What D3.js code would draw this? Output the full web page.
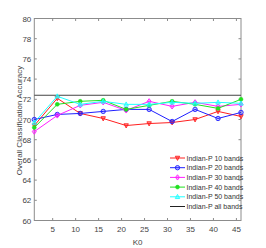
<!DOCTYPE html>
<html>
<head>
<meta charset="utf-8">
<script src="https://cdn.jsdelivr.net/npm/d3@7"></script>
<style>
body { margin: 0; background: #fff; }
</style>
</head>
<body>
<div id="chart"></div>
<script>
// K0 values on the x axis
const k0 = [1, 6, 11, 16, 21, 26, 31, 36, 41, 46];

// accuracy for each band count
const bands10 = [69.4, 72.1, 70.6, 70.1, 69.4, 69.6, 69.7, 70.0, 70.8, 70.3];
const bands20 = [70.0, 70.5, 70.6, 70.8, 71.0, 71.0, 69.8, 71.0, 70.1, 70.7];
const bands30 = [68.8, 70.4, 71.4, 71.7, 70.9, 71.8, 71.3, 71.7, 71.3, 71.5];
const bands40 = [69.2, 71.5, 71.8, 71.9, 71.0, 71.4, 71.8, 71.5, 71.1, 72.0];
const bands50 = [69.7, 72.3, 71.5, 71.8, 71.5, 71.5, 71.7, 71.6, 71.7, 71.6];
const allBands = 72.4;

const seriesNames = ["Indian-P 10 bands", "Indian-P 20 bands", "Indian-P 30 bands",
                     "Indian-P 40 bands", "Indian-P 50 bands", "Indian-P all bands"];

const xTicks = [5, 10, 15, 20, 25, 30, 35, 40, 45];
const yTicks = [60, 62, 64, 66, 68, 70, 72, 74, 76, 78, 80];

const margin = {top: 18.5, right: 25, bottom: 27.5, left: 34.3};
const width = 266 - margin.left - margin.right;
const height = 248 - margin.top - margin.bottom;

const svg = d3.select("#chart").append("svg")
    .attr("width", 266)
    .attr("height", 248)
    .append("g")
    .attr("transform", `translate(${margin.left}, ${margin.top})`);

const x = d3.scaleLinear().domain([1, 46]).range([0, width]);
const y = d3.scaleLinear().domain([60, 80]).range([height, 0]);

const axisColor = "#8c8c8c";
const labelColor = "#444";
const tickFont = "'Liberation Sans Narrow', 'Liberation Sans', Arial, sans-serif";

// box
svg.append("rect")
    .attr("width", width)
    .attr("height", height)
    .attr("fill", "none")
    .attr("stroke", axisColor)
    .attr("stroke-width", 1);

// inward ticks on all four sides
const tickLen = 2.5;
xTicks.forEach(t => {
    svg.append("line").attr("x1", x(t)).attr("x2", x(t)).attr("y1", height).attr("y2", height - tickLen)
        .attr("stroke", axisColor);
    svg.append("line").attr("x1", x(t)).attr("x2", x(t)).attr("y1", 0).attr("y2", tickLen)
        .attr("stroke", axisColor);
    svg.append("text")
        .attr("x", x(t))
        .attr("y", height + 11)
        .attr("text-anchor", "middle")
        .attr("font-family", tickFont)
        .attr("font-size", "8px")
        .attr("fill", labelColor)
        .text(t);
});

yTicks.forEach(t => {
    svg.append("line").attr("x1", 0).attr("x2", tickLen).attr("y1", y(t)).attr("y2", y(t))
        .attr("stroke", axisColor);
    svg.append("line").attr("x1", width).attr("x2", width - tickLen).attr("y1", y(t)).attr("y2", y(t))
        .attr("stroke", axisColor);
    svg.append("text")
        .attr("x", -3)
        .attr("y", y(t) + 3)
        .attr("text-anchor", "end")
        .attr("font-family", tickFont)
        .attr("font-size", "8px")
        .attr("fill", labelColor)
        .text(t);
});

// axis labels
svg.append("text")
    .attr("x", width / 2)
    .attr("y", height + 24)
    .attr("text-anchor", "middle")
    .attr("font-family", tickFont)
    .attr("font-size", "8px")
    .attr("fill", labelColor)
    .text("K0");

svg.append("text")
    .attr("transform", "rotate(-90)")
    .attr("x", -(height / 2 + 1))
    .attr("y", -12.5)
    .attr("text-anchor", "middle")
    .attr("font-family", "'Liberation Sans', Arial, sans-serif")
    .attr("font-size", "8px")
    .attr("fill", labelColor)
    .text("Overall Classification Accuracy");

// marker shapes
function marker(g, kind, cx, cy, color) {
    const s = 2.2;
    if (kind === "tri-down") {
        g.append("path").attr("d", `M${cx - s},${cy - s * 0.8}L${cx + s},${cy - s * 0.8}L${cx},${cy + s * 1.1}Z`)
            .attr("fill", color).attr("fill-opacity", 0.5).attr("stroke", color).attr("stroke-width", 0.9);
    } else if (kind === "circle") {
        g.append("circle").attr("cx", cx).attr("cy", cy).attr("r", s)
            .attr("fill", color).attr("fill-opacity", 0.3).attr("stroke", color).attr("stroke-width", 0.9);
    } else if (kind === "diamond") {
        g.append("path").attr("d", `M${cx},${cy - s * 1.2}L${cx + s * 0.9},${cy}L${cx},${cy + s * 1.2}L${cx - s * 0.9},${cy}Z`)
            .attr("fill", color).attr("fill-opacity", 0.4).attr("stroke", color).attr("stroke-width", 0.9);
    } else if (kind === "dot") {
        g.append("circle").attr("cx", cx).attr("cy", cy).attr("r", s * 0.9)
            .attr("fill", color).attr("stroke", color).attr("stroke-width", 0.5);
    } else if (kind === "tri-up") {
        g.append("path").attr("d", `M${cx - s},${cy + s * 0.8}L${cx + s},${cy + s * 0.8}L${cx},${cy - s * 1.1}Z`)
            .attr("fill", color).attr("fill-opacity", 0.4).attr("stroke", color).attr("stroke-width", 0.9);
    }
}

const series = [
    {name: seriesNames[0], values: bands10, color: "#ff2020", kind: "tri-down"},
    {name: seriesNames[1], values: bands20, color: "#2020ff", kind: "circle"},
    {name: seriesNames[2], values: bands30, color: "#ff20ff", kind: "diamond"},
    {name: seriesNames[3], values: bands40, color: "#20e020", kind: "dot"},
    {name: seriesNames[4], values: bands50, color: "#20ffff", kind: "tri-up"}
];

// all bands reference line
svg.append("line")
    .attr("x1", 0).attr("x2", width)
    .attr("y1", y(allBands)).attr("y2", y(allBands))
    .attr("stroke", "#444")
    .attr("stroke-width", 1.2);

const line = d3.line()
    .x((d, i) => x(k0[i]))
    .y(d => y(d));

series.forEach(s => {
    const g = svg.append("g");
    g.append("path")
        .datum(s.values)
        .attr("d", line)
        .attr("fill", "none")
        .attr("stroke", s.color)
        .attr("stroke-width", 1);
    s.values.forEach((v, i) => marker(g, s.kind, x(k0[i]), y(v), s.color));
});

// legend
const legend = svg.append("g")
    .attr("transform", `translate(${170 - margin.left}, ${158 - margin.top})`);

const legendItems = series.concat([{name: seriesNames[5], color: "#222", kind: null}]);
legendItems.forEach((s, i) => {
    const ly = i * 9.7;
    legend.append("line")
        .attr("x1", 0).attr("x2", 15)
        .attr("y1", ly).attr("y2", ly)
        .attr("stroke", s.color)
        .attr("stroke-width", 1);
    if (s.kind) marker(legend, s.kind, 7.5, ly, s.color);
    legend.append("text")
        .attr("x", 16.5)
        .attr("y", ly + 2.5)
        .attr("font-family", tickFont)
        .attr("font-size", "7px")
        .attr("fill", "#333")
        .text(s.name);
});
</script>
</body>
</html>
